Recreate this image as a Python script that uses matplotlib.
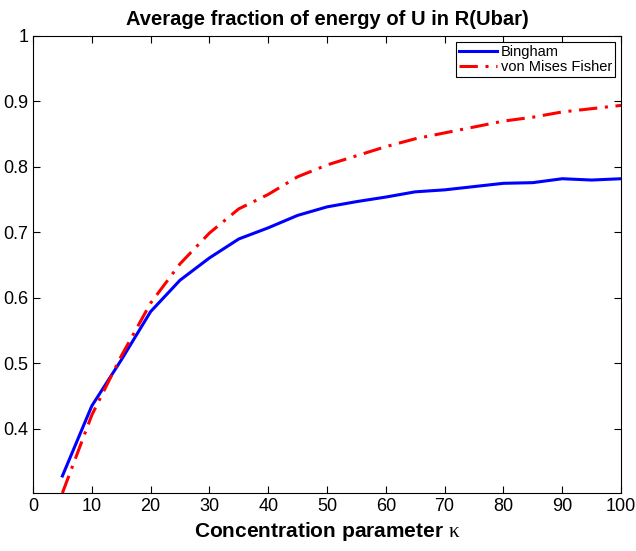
import matplotlib
matplotlib.use("Agg")
import matplotlib.pyplot as plt
import numpy as np

plt.rcParams['font.family'] = ['Liberation Sans', 'DejaVu Sans']
plt.rcParams['mathtext.fontset'] = 'custom'
plt.rcParams['mathtext.it'] = 'Liberation Serif'
plt.rcParams['mathtext.rm'] = 'Liberation Serif'

kappa = [5, 10, 15, 20, 25, 30, 35, 40, 45, 50, 55, 60, 65, 70, 75, 80, 85, 90, 95, 100]
bingham = [0.328, 0.435, 0.505, 0.579, 0.627, 0.661, 0.690, 0.707, 0.726, 0.739, 0.747, 0.754,
           0.762, 0.765, 0.770, 0.775, 0.776, 0.782, 0.780, 0.782]
vmf = [0.302, 0.421, 0.511, 0.592, 0.652, 0.699, 0.736, 0.758, 0.785, 0.803, 0.817, 0.831,
       0.843, 0.852, 0.861, 0.870, 0.876, 0.884, 0.889, 0.894]

fig = plt.figure(figsize=(6.36, 5.51), dpi=100)
ax = fig.add_axes([33/636, 1 - 493/551, (621 - 33)/636, (493 - 36)/551])

ax.plot(kappa, bingham, color='#0000ff', linewidth=2.2, label='Bingham')
ax.plot(kappa, vmf, color='#ff0000', linewidth=2.2, linestyle=(0, (6, 2.5, 1, 2.5)),
        label='von Mises Fisher')

ax.set_xlim(0, 100)
ax.set_ylim(0.302, 1.0)
ax.set_xticks(np.arange(0, 101, 10))
ax.set_yticks([0.4, 0.5, 0.6, 0.7, 0.8, 0.9, 1.0])
ax.set_yticklabels(['0.4', '0.5', '0.6', '0.7', '0.8', '0.9', '1'])
ax.tick_params(direction='in', top=True, right=True, labelsize=13, length=5, width=0.8)
for s in ax.spines.values():
    s.set_linewidth(0.8)

ax.set_title('Average fraction of energy of U in R(Ubar)', fontsize=14.5, fontweight='bold', pad=8)
ax.set_xlabel(r'Concentration parameter $\kappa$', fontsize=15, fontweight='bold', labelpad=4)

leg = ax.legend(loc='upper right', fontsize=10.5, fancybox=False, edgecolor='black',
                framealpha=1, borderpad=0.2, handlelength=2.6, handletextpad=0.3,
                labelspacing=0.1, borderaxespad=0.4)
leg.get_frame().set_linewidth(0.8)

plt.savefig("out.png")
